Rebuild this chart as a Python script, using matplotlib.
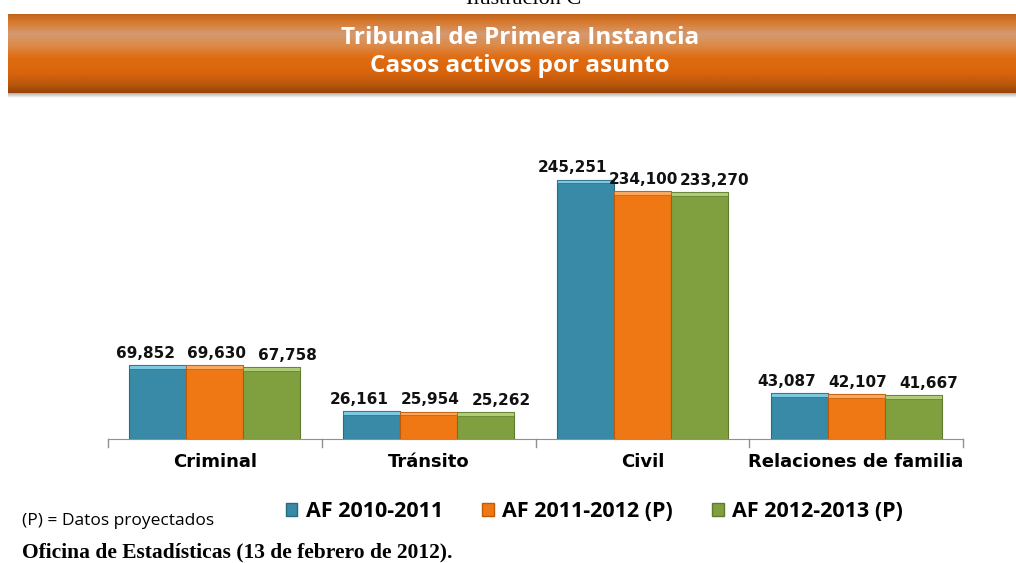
import numpy as np
import matplotlib.pyplot as plt
from matplotlib.colors import LinearSegmentedColormap
from matplotlib.patches import Patch
import matplotlib.transforms as mtrans

# data
categories = ['Criminal', 'Tránsito', 'Civil', 'Relaciones de familia']
series_names = ['AF 2010-2011', 'AF 2011-2012 (P)', 'AF 2012-2013 (P)']
af_2010_2011 = [69852, 26161, 245251, 43087]
af_2011_2012 = [69630, 25954, 234100, 42107]
af_2012_2013 = [67758, 25262, 233270, 41667]
series = [af_2010_2011, af_2011_2012, af_2012_2013]

colors = ['#388aa6', '#f07814', '#80a040']
tops = ['#7cc8e0', '#f8a860', '#b0cc78']
edges = ['#2a6a80', '#c05a08', '#5e7a2c']
label_dx = [-9, 1, 11]  # points, label nudge per series

fig = plt.figure(figsize=(10.16, 5.63), dpi=100)

# banner with vertical gradient
bx = fig.add_axes([8 / 1016, 1 - 93 / 563, 1 - 8 / 1016, 79 / 563])
cmap = LinearSegmentedColormap.from_list('banner', [
    (0.0, '#c4641c'), (0.1, '#d87a30'), (0.25, '#d49a70'), (0.4, '#dc8a48'),
    (0.55, '#e06c12'), (0.75, '#d8640c'), (0.9, '#b8560c'), (1.0, '#984408')])
grad = np.linspace(0, 1, 200).reshape(-1, 1)
bx.imshow(grad, aspect='auto', cmap=cmap, extent=[0, 1, 0, 1])
bx.axis('off')
bx.text(0.508, 0.69, 'Tribunal de Primera Instancia', color='white', fontsize=17.5,
        fontweight='bold', family='Open Sans', ha='center', va='center', transform=bx.transAxes)
bx.text(0.508, 0.34, 'Casos activos por asunto', color='white', fontsize=17.5,
        fontweight='bold', family='Open Sans', ha='center', va='center', transform=bx.transAxes)

# shadow under the banner
sx = fig.add_axes([8 / 1016, 1 - 98 / 563, 1 - 8 / 1016, 5 / 563])
sgrad = np.linspace(0, 1, 20).reshape(-1, 1)
sx.imshow(sgrad, aspect='auto', cmap=LinearSegmentedColormap.from_list('sh', ['#a0a0a0', '#ffffff']),
          extent=[0, 1, 0, 1])
sx.axis('off')

fig.text(0.515, 1.0, 'Ilustración C', family='Liberation Serif', fontsize=16,
         ha='center', va='center')

# chart
ax = fig.add_axes([108 / 1016, 1 - 439 / 563, 855 / 1016, 275 / 563])
n = len(categories)
x = np.arange(n)
w = 0.267
ymax = 260000
cap = ymax * 0.013
for i, vals in enumerate(series):
    pos = x + (i - 1) * w
    ax.bar(pos, vals, width=w, color=colors[i], edgecolor=edges[i], linewidth=0.8, zorder=2)
    ax.bar(pos, cap, bottom=np.array(vals) - cap, width=w, color=tops[i],
           edgecolor=edges[i], linewidth=0.5, zorder=3)
    tr = ax.transData + mtrans.ScaledTranslation(label_dx[i] / 72, 3 / 72, fig.dpi_scale_trans)
    for p, v in zip(pos, vals):
        ax.text(p, v, f'{v:,}', ha='center', va='bottom', transform=tr,
                fontsize=11, fontweight='bold', color='#111111')

ax.set_xlim(-0.5, n - 0.5)
ax.set_ylim(0, ymax)
ax.set_yticks([])
ax.set_xticks(x)
ax.set_xticklabels(categories, fontsize=13, fontweight='bold')
ax.tick_params(axis='x', length=0, pad=10)
for b in np.arange(-0.5, n, 1.0):
    ax.plot([b, b], [0, -ymax * 0.03], color='#909090', lw=1, clip_on=False)
for s in ['top', 'right', 'left']:
    ax.spines[s].set_visible(False)
ax.spines['bottom'].set_color('#909090')

# legend
handles = [Patch(facecolor=colors[i], edgecolor=edges[i]) for i in range(3)]
fig.legend(handles, series_names, loc='center', bbox_to_anchor=(0.585, 0.091), ncol=3,
           frameon=False, prop={'family': 'Open Sans', 'weight': 'bold', 'size': 15.5},
           handlelength=0.55, handleheight=0.55, handletextpad=0.4, columnspacing=1.8)

fig.text(22 / 1016, 1 - 521 / 563, '(P) = Datos proyectados', fontsize=12.5,
         family='Open Sans', va='center')
fig.text(22 / 1016, 1 - 552 / 563, 'Oficina de Estadísticas (13 de febrero de 2012).',
         fontsize=15.5, family='Liberation Serif', fontweight='bold', va='center')

fig.savefig('out.png', dpi=100)
